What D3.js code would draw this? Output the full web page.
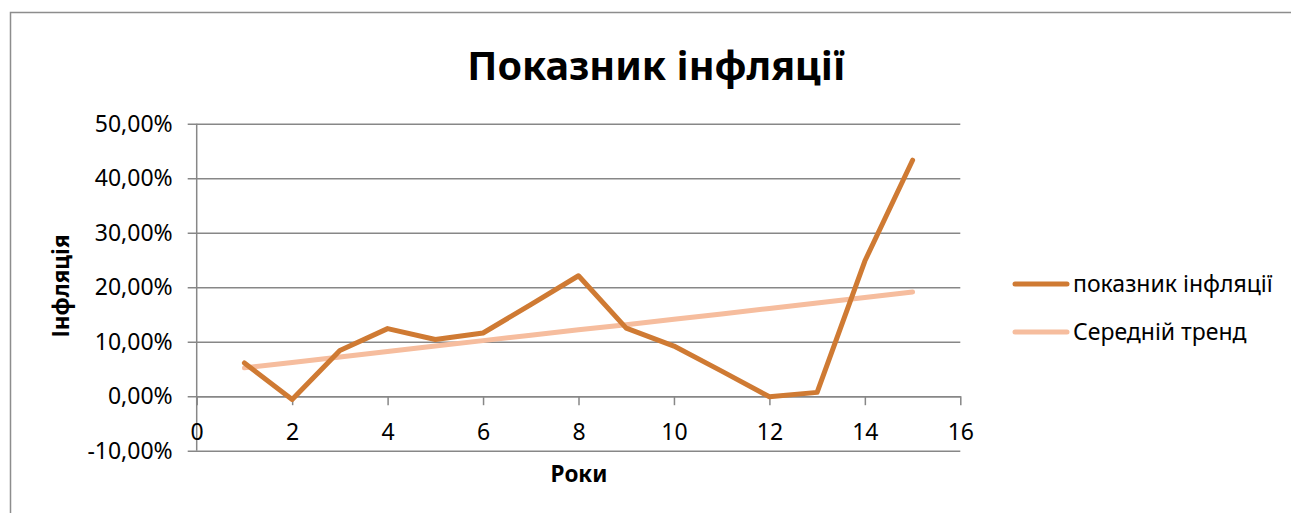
<!DOCTYPE html>
<html>
<head>
<meta charset="utf-8">
<script src="https://cdn.jsdelivr.net/npm/d3@7"></script>
<style>
  body { margin: 0; background: #fff; }
  svg { display: block; font-family: "Noto Sans", "Open Sans", sans-serif; }
</style>
</head>
<body>
<div id="chart"></div>
<script>
// Chart data
const years = [1, 2, 3, 4, 5, 6, 7, 8, 9, 10, 11, 12, 13, 14, 15];
const inflation = [6.1, -0.6, 8.4, 12.4, 10.4, 11.6, 16.8, 22.1, 12.5, 9.2, 4.6, -0.1, 0.7, 24.8, 43.3];
const trend = [5.2, 6.2, 7.2, 8.2, 9.2, 10.2, 11.2, 12.2, 13.1, 14.1, 15.1, 16.1, 17.1, 18.1, 19.1];
const xTicks = [0, 2, 4, 6, 8, 10, 12, 14, 16];
const yTicks = [-10, 0, 10, 20, 30, 40, 50];
const seriesNames = ['показник інфляції', 'Середній тренд'];

const W = 1291, H = 513;
const plot = {left: 196.7, right: 960.3, top: 123.7, bottom: 450.7};
const colors = ['#CF7A33', '#F6BD9E'];
const grid = '#878787';

const svg = d3.select('#chart').append('svg')
  .attr('width', W)
  .attr('height', H);

// outer chart frame (runs past right / bottom edge)
svg.append('rect')
  .attr('x', 10.5).attr('y', 12.5)
  .attr('width', 1400).attr('height', 700)
  .attr('fill', 'none')
  .attr('stroke', '#8d8d8d')
  .attr('stroke-width', 1.5);

const xscale = d3.scaleLinear().domain([0, 16]).range([plot.left, plot.right]);
const yscale = d3.scaleLinear().domain([-10, 50]).range([plot.bottom, plot.top]);

const ua = d3.formatLocale({decimal: ',', thousands: ' ', grouping: [3], currency: ['', ''], minus: '-'});
const pct = ua.format('.2f');

// horizontal gridlines + y axis
const yaxis = d3.axisLeft(yscale)
  .tickValues(yTicks)
  .tickSize(-(plot.right - plot.left))
  .tickPadding(16)
  .tickFormat(d => pct(d) + '%');

const g_yaxis = svg.append('g')
  .attr('transform', `translate(${plot.left},0)`)
  .call(yaxis);
g_yaxis.select('.domain').remove();
g_yaxis.selectAll('.tick line')
  .attr('x1', -9)
  .attr('stroke', grid)
  .attr('stroke-width', 1.5);
g_yaxis.selectAll('.tick text')
  .attr('x', -24)
  .attr('fill', '#000')
  .style('font-size', '23px')
  .style('font-family', '"Noto Sans", sans-serif');

// vertical axis line
svg.append('line')
  .attr('x1', plot.left).attr('x2', plot.left)
  .attr('y1', plot.top).attr('y2', plot.bottom)
  .attr('stroke', grid).attr('stroke-width', 1.5);

// x axis, sits on the zero line
const xaxis = d3.axisBottom(xscale)
  .tickValues(xTicks)
  .tickSize(9)
  .tickSizeOuter(0)
  .tickPadding(18);

const g_xaxis = svg.append('g')
  .attr('transform', `translate(0,${yscale(0)})`)
  .call(xaxis);
g_xaxis.select('.domain').attr('stroke', grid).attr('stroke-width', 1.5);
g_xaxis.selectAll('.tick line').attr('stroke', grid).attr('stroke-width', 1.5);
g_xaxis.selectAll('.tick text')
  .attr('fill', '#000')
  .style('font-size', '23px')
  .style('font-family', '"Noto Sans", sans-serif');

// lines
const line = d3.line()
  .x((d, i) => xscale(years[i]))
  .y(d => yscale(d));

[trend, inflation].forEach((vals, k) => {
  svg.append('path')
    .datum(vals)
    .attr('d', line)
    .attr('fill', 'none')
    .attr('stroke', k === 0 ? colors[1] : colors[0])
    .attr('stroke-width', 5)
    .attr('stroke-linejoin', 'round')
    .attr('stroke-linecap', 'round');
});

// titles
svg.append('text')
  .attr('x', 656).attr('y', 80)
  .attr('text-anchor', 'middle')
  .style('font-size', '39.5px')
  .style('font-weight', 'bold')
  .text('Показник інфляції');

svg.append('text')
  .attr('transform', 'translate(69,286) rotate(-90)')
  .attr('text-anchor', 'middle')
  .style('font-size', '22.5px')
  .style('font-weight', 'bold')
  .text('Інфляція');

svg.append('text')
  .attr('x', 579).attr('y', 482)
  .attr('text-anchor', 'middle')
  .style('font-size', '22.5px')
  .style('font-weight', 'bold')
  .text('Роки');

// legend
const legend = svg.append('g').attr('class', 'legend');
seriesNames.forEach((name, i) => {
  const y = 284 + i * 48;
  legend.append('line')
    .attr('x1', 1015).attr('x2', 1067)
    .attr('y1', y).attr('y2', y)
    .attr('stroke', colors[i])
    .attr('stroke-width', 5)
    .attr('stroke-linecap', 'round');
  legend.append('text')
    .attr('x', 1073).attr('y', y)
    .attr('dy', '0.35em')
    .style('font-size', '23px')
    .text(name);
});
</script>
</body>
</html>
